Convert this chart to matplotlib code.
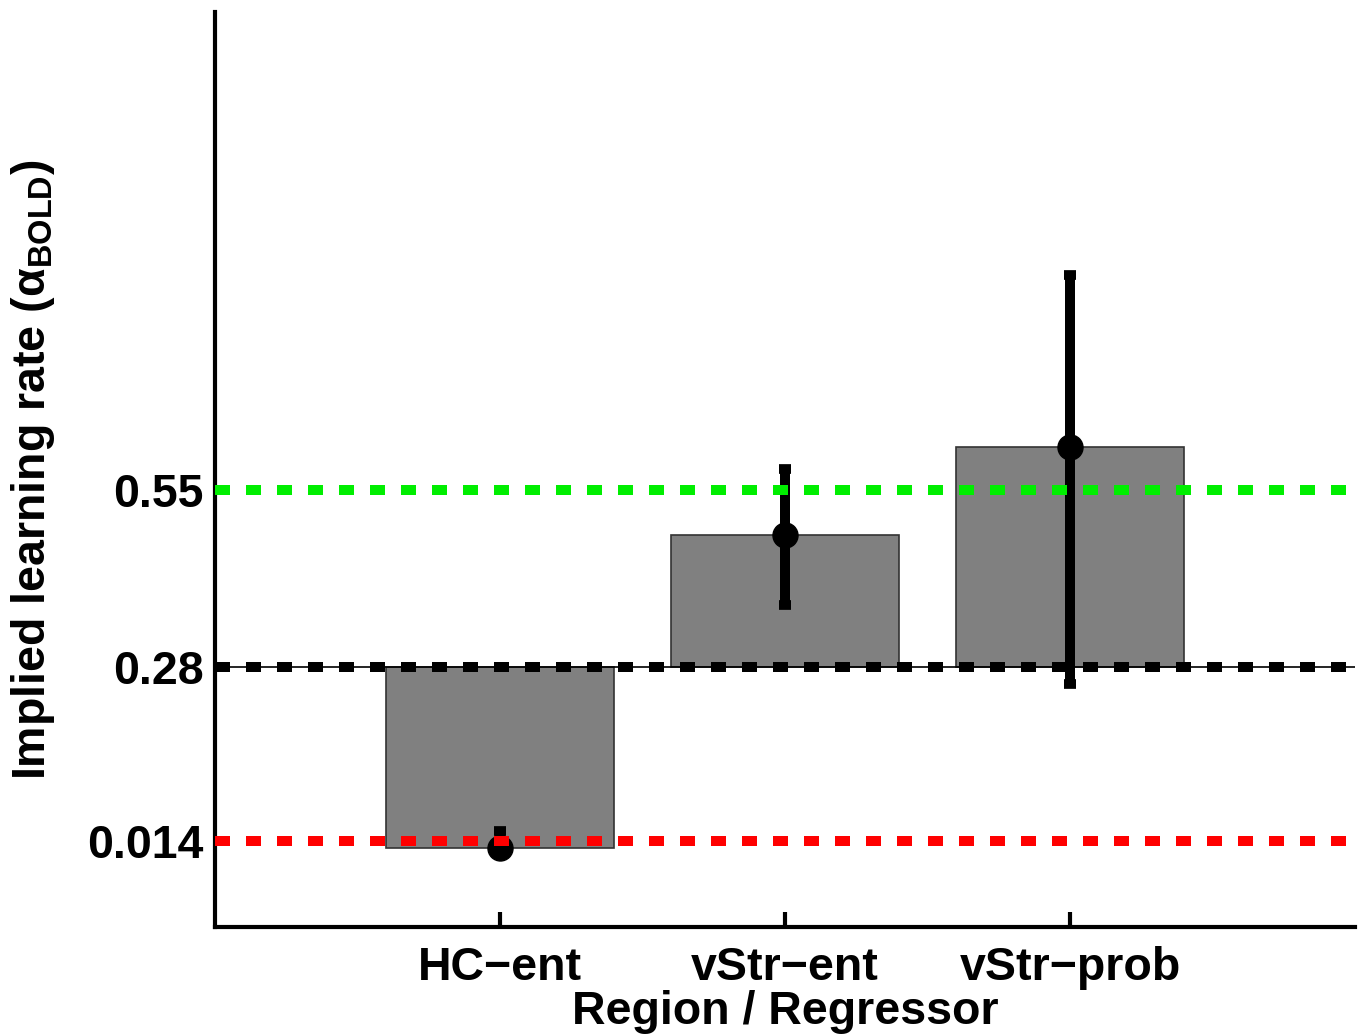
import matplotlib
matplotlib.use("Agg")
import matplotlib.pyplot as plt
import numpy as np

plt.rcParams['font.family'] = ['Liberation Sans', 'DejaVu Sans']
plt.rcParams['font.weight'] = 'bold'
plt.rcParams['mathtext.fontset'] = 'custom'
plt.rcParams['mathtext.rm'] = 'Liberation Sans:bold'
plt.rcParams['mathtext.bf'] = 'Liberation Sans:bold'
plt.rcParams['mathtext.it'] = 'Liberation Sans:bold'

categories = ['HC\u2212ent', 'vStr\u2212ent', 'vStr\u2212prob']
values = [0.004, 0.481, 0.616]
err_low = [0.004, 0.374, 0.254]
err_high = [0.030, 0.583, 0.879]
baseline = 0.28
ref_levels = [0.55, 0.28, 0.014]
ref_colors = ['#00ee00', 'black', '#ff0000']
ytick_vals = [0.014, 0.28, 0.55]
ytick_labels = ['0.014', '0.28', '0.55']

FS = 33.5

fig = plt.figure(figsize=(13.64, 10.36), dpi=100)
ax = fig.add_axes([0.1576, 0.1052, 0.9934 - 0.1576, 0.9884 - 0.1052])

x = np.arange(1, len(categories) + 1)
vals = np.array(values)
ax.bar(x, vals - baseline, bottom=baseline, width=0.8, color='#808080',
       edgecolor='#333333', linewidth=1.2, zorder=1)
ax.axhline(baseline, color='black', linewidth=1.2, zorder=1.5)

yerr = np.array([vals - np.array(err_low), np.array(err_high) - vals])
ax.errorbar(x, vals, yerr=yerr, fmt='o', color='black', ms=18,
            elinewidth=7.2, capsize=4.0, capthick=7, zorder=2)

for lvl, c in zip(ref_levels, ref_colors):
    ax.axhline(lvl, color=c, linewidth=7.2, linestyle=(0, (1.5, 1.6)),
               dash_capstyle='butt', zorder=3)

ax.set_xlim(0, 4)
ax.set_ylim(-0.117, 1.28)
ax.set_xticks(x)
ax.set_xticklabels(categories, fontsize=FS, fontweight='bold')
ax.set_yticks(ytick_vals)
ax.set_yticklabels(ytick_labels, fontsize=FS, fontweight='bold')
ax.tick_params(direction='in', length=11, width=3, pad=8)
ax.tick_params(axis='x', pad=14)

for s in ['top', 'right']:
    ax.spines[s].set_visible(False)
for s in ['left', 'bottom']:
    ax.spines[s].set_linewidth(3)

ax.set_xlabel('Region / Regressor', fontsize=FS, fontweight='bold', labelpad=0)
ax.set_ylabel('Implied learning rate (\u03b1$_{\\mathbf{BOLD}}$)', fontsize=FS,
              fontweight='bold', labelpad=22)

fig.savefig('out.png', dpi=100)
